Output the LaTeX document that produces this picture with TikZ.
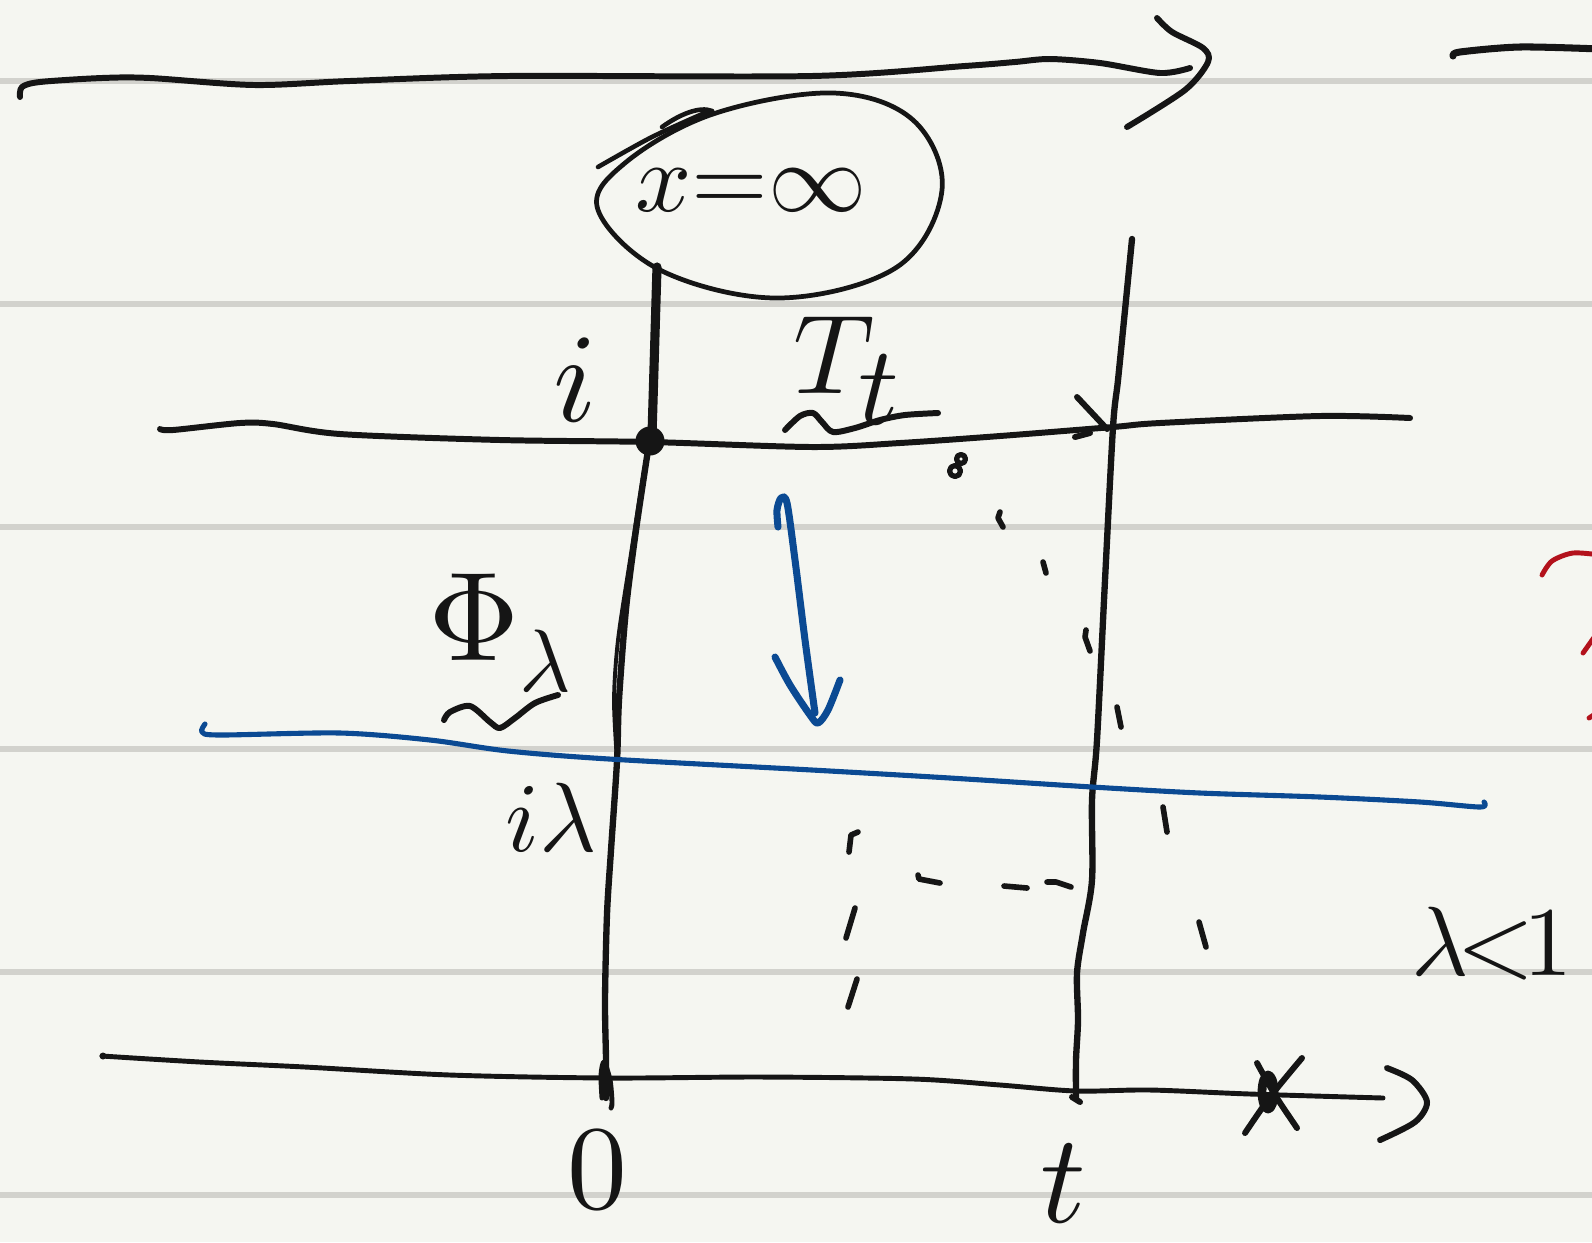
\documentclass[tikz,border=0pt]{standalone}
\usepackage{unicode-math}
\setmathfont{Latin Modern Math}
\definecolor{paper}{HTML}{F5F6F1}
\definecolor{rulec}{HTML}{D2D2CD}
\definecolor{inkc}{HTML}{151515}
\definecolor{bluec}{HTML}{0B4A93}
\definecolor{redc}{HTML}{B3121C}
\newcommand\hwsize[1]{\fontsize{#1}{#1}\selectfont}
\tikzset{
  ink/.style={draw=inkc, line width=1.7pt, line cap=round, line join=round},
  thickink/.style={ink, line width=2.6pt},
  blueink/.style={draw=bluec, line width=1.45pt, line cap=round, line join=round},
  redink/.style={draw=redc, line width=1.4pt, line cap=round},
  rulestyle/.style={draw=rulec, line width=1.7pt},
  tick/.style={ink, line width=1.6pt},
  lbl/.style={text=inkc, inner sep=0pt, outer sep=0pt},
}
\begin{document}
\begin{tikzpicture}[x=0.01cm, y=-0.01cm]
\useasboundingbox (0,0) rectangle (1592,1242);
\clip (0,0) rectangle (1592,1242);
\fill[paper] (0,0) rectangle (1592,1242);
% ruled lines
\foreach \yy in {81,304,527,749,972,1195} \draw[rulestyle] (0,\yy) -- (1592,\yy);

% top arrow
\draw[ink] plot[smooth] coordinates {(20,97) (22,87) (40,82) (102,78) (150,78) (254,85) (350,81) (508,76) (812,76) (965,66) (1015,62) (1050,59) (1100,63) (1160,73) (1190,68)};
\draw[ink] plot[smooth] coordinates {(1157,18) (1172,32) (1203,48) (1208,62) (1185,90) (1127,127)};
\draw[ink, line width=2pt] plot[smooth] coordinates {(1453,56) (1460,52) (1520,47) (1600,49)};

% bubble x = infinity
\draw[ink, line width=1.35pt] plot[smooth cycle, tension=0.6] coordinates {(598,210) (625,163) (713,114) (833,93) (913,120) (942,190) (897,267) (780,298) (662,271)};
\draw[ink, line width=1.3pt] plot[smooth] coordinates {(598,167) (650,138) (700,115) (712,111)};
\draw[ink, line width=1.3pt] (712,111) .. controls (700,106) and (680,114) .. (662,127);
\node[lbl, font=\hwsize{28}] (xinf) at (751,190) {$x{=}\infty$};

% left vertical line
\draw[thickink] (657,267) -- (652,435);
\draw[ink, line width=1.8pt] plot[smooth] coordinates {(648,450) (636,530) (626,609) (619,700) (617,761) (611,850) (607,914) (605,1000) (606,1060) (606,1098)};
\draw[ink, line width=1.1pt] plot[smooth] coordinates {(644,470) (630,560) (618,640) (614,700) (617,761)};
\draw[ink, line width=1.4pt] plot[smooth] coordinates {(602,1098) (601,1075) (604,1062) (610,1080) (612,1102) (611,1108)};

% middle horizontal line
\draw[ink] plot[smooth] coordinates {(160,429) (173,430) (240,423) (273,424) (340,434) (500,440) (650,442) (812,447) (900,443) (1000,436) (1113,427) (1160,423) (1320,416) (1410,418)};
\fill[inkc] (650,441) circle (0.145cm);
\draw[ink] (1077,397) -- (1107,429);
\draw[ink] (1075,437) -- (1090,433);

% right vertical line
\draw[ink, line width=1.8pt] plot[smooth] coordinates {(1132,239) (1125,310) (1118,380) (1113,427) (1105,580) (1097,740) (1092,800) (1092,880) (1083,933) (1077,973) (1078,1020) (1076,1060) (1076,1098)};
\draw[ink] (1072,1097) -- (1080,1102);

% bottom axis
\draw[ink, line width=1.4pt] plot[smooth] coordinates {(102,1056) (200,1062) (305,1067) (450,1075) (609,1078) (760,1077) (914,1079) (1000,1085) (1076,1091) (1150,1090) (1250,1094) (1383,1098)};
\fill[inkc] (103,1056) circle (0.035cm);
\draw[ink] plot[smooth] coordinates {(1387,1068) (1412,1080) (1427,1102) (1415,1122) (1380,1140)};
\draw[ink] plot[smooth] coordinates {(1245,1133) (1270,1097) (1302,1058)};
\draw[ink] plot[smooth] coordinates {(1257,1063) (1275,1095) (1297,1128)};
\draw[ink, line width=2.5pt] (1268,1092) ellipse [x radius=0.06cm, y radius=0.17cm];

% blue line and arrow
\draw[blueink] plot[smooth] coordinates {(205,724) (202,732) (220,735) (340,733) (430,740) (508,751) (609,759) (812,770) (950,778) (1092,787) (1200,793) (1320,797) (1420,802) (1480,807) (1484,802)};
\draw[blueink, line width=2pt] plot[smooth] coordinates {(778,527) (777,510) (781,498) (787,503) (795,560) (805,640) (815,713)};
\draw[blueink, line width=2pt] plot[smooth] coordinates {(775,657) (790,685) (810,715) (818,723) (828,710) (840,680)};

% red fragment
\draw[redink] plot[smooth] coordinates {(1542,575) (1552,561) (1573,553) (1600,555)};
\draw[redink] (1583,653) -- (1595,636);
\draw[redink] (1589,718) -- (1595,714);

% dotted ticks
\draw[ink, line width=1.5pt] (961,459) circle (0.045cm);
\draw[ink, line width=1.5pt] (955,471) circle (0.055cm);
\draw[tick] (1000,512) -- (998,518) -- (1003,527);
\draw[tick] (1043,562) -- (1046,573);
\draw[tick] (1086,630) -- (1085,637) -- (1090,651);
\draw[tick] (1117,707) -- (1121,727);
\draw[tick] (858,832) -- (851,835) -- (849,852);
\draw[tick] (855,908) -- (846,938);
\draw[tick] (857,979) -- (848,1007);
\draw[tick] (918,875) -- (919,879) -- (940,883);
\draw[tick] (1004,886) -- (1027,888);
\draw[tick] (1047,882) -- (1056,882) -- (1071,887);
\draw[tick] (1163,807) -- (1167,832);
\draw[tick] (1199,922) -- (1206,947);

% labels
\node[lbl, font=\hwsize{36}, anchor=base] (ilbl) at (575,421) {$i$};
\node[lbl, font=\hwsize{32}, anchor=base west] (Tt) at (793,393) {$T_{\textstyle t}$};
\draw[ink] plot[smooth] coordinates {(785,430) (800,416) (813,413) (822,422) (833,432) (855,428) (880,420) (905,415) (938,413)};
\node[lbl, font=\hwsize{36}, anchor=base west] (phil) at (428,660) {$\Phi_{\lambda}$};
\draw[ink] plot[smooth] coordinates {(444,720) (450,712) (470,706) (490,722) (500,728) (515,718) (535,703) (558,695)};
\node[lbl, font=\hwsize{28}, anchor=base] (ilam) at (551,851) {$i\lambda$};
\node[lbl, font=\hwsize{34}] (zero) at (597,1170) {$0$};
\node[lbl, font=\hwsize{36}, anchor=base] (tlbl) at (1063,1222) {$t$};
\node[lbl, font=\hwsize{28}, anchor=base west] (lamless) at (1411,975) {$\lambda\mkern-2mu{<}\mkern-2mu1$};
\end{tikzpicture}
\end{document}
